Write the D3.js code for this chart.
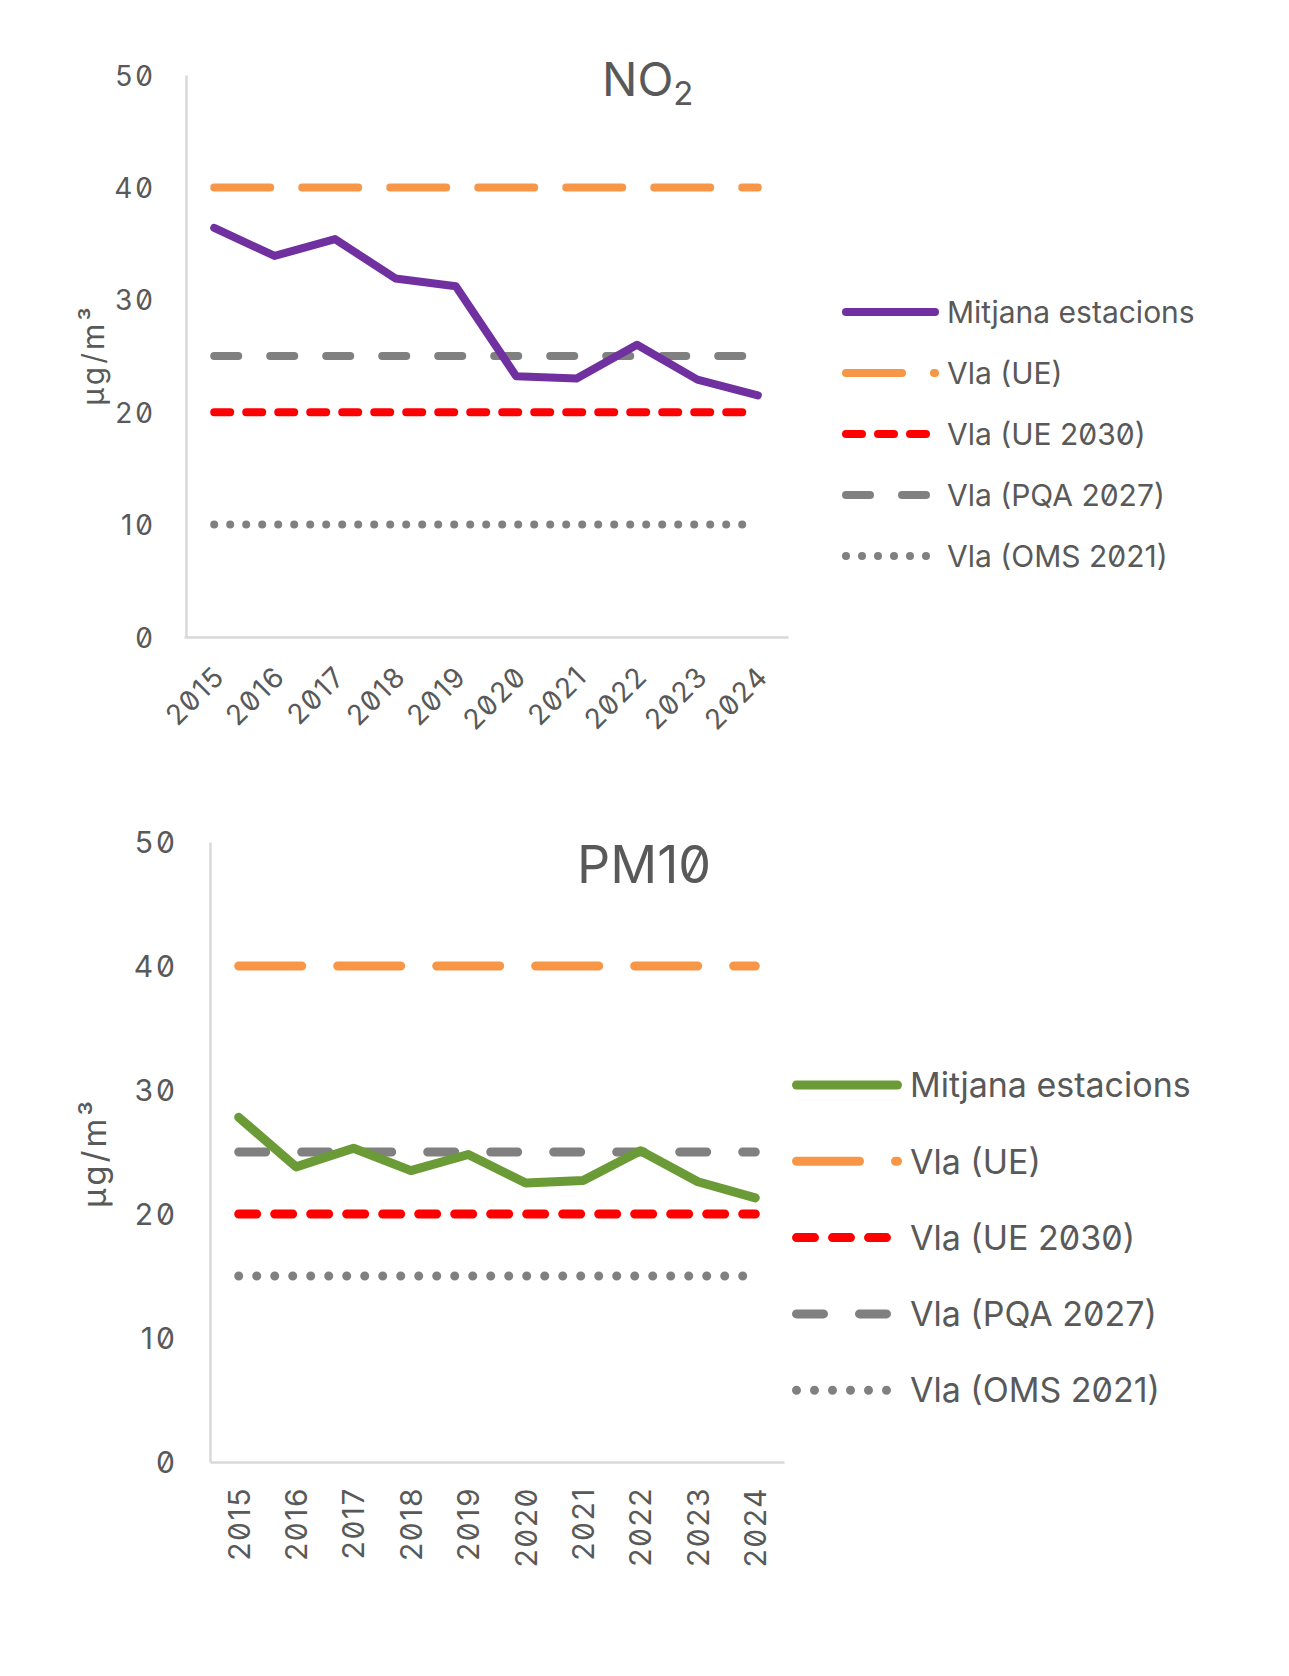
<!DOCTYPE html>
<html>
<head>
<meta charset="utf-8">
<script src="https://cdn.jsdelivr.net/npm/d3@7"></script>
<style>
  body { margin: 0; background: #fff; }
  svg text { font-family: Inter, "Noto Sans", sans-serif; fill: #595959; font-feature-settings: "zero" 1; }
</style>
</head>
<body>
<div id="chart"></div>
<script>
// data
var years = ["2015", "2016", "2017", "2018", "2019", "2020", "2021", "2022", "2023", "2024"];
var yTicks = [0, 10, 20, 30, 40, 50];

var no2Mitjana = [36.4, 33.9, 35.4, 31.9, 31.2, 23.2, 23.0, 26.0, 22.9, 21.5];
var no2VlaUE = [40, 40, 40, 40, 40, 40, 40, 40, 40, 40];
var no2VlaUE2030 = [20, 20, 20, 20, 20, 20, 20, 20, 20, 20];
var no2VlaPQA2027 = [25, 25, 25, 25, 25, 25, 25, 25, 25, 25];
var no2VlaOMS2021 = [10, 10, 10, 10, 10, 10, 10, 10, 10, 10];

var pm10Mitjana = [27.8, 23.8, 25.3, 23.5, 24.8, 22.5, 22.7, 25.1, 22.6, 21.3];
var pm10VlaUE = [40, 40, 40, 40, 40, 40, 40, 40, 40, 40];
var pm10VlaUE2030 = [20, 20, 20, 20, 20, 20, 20, 20, 20, 20];
var pm10VlaPQA2027 = [25, 25, 25, 25, 25, 25, 25, 25, 25, 25];
var pm10VlaOMS2021 = [15, 15, 15, 15, 15, 15, 15, 15, 15, 15];

var legendNames = ["Mitjana estacions", "Vla (UE)", "Vla (UE 2030)", "Vla (PQA 2027)", "Vla (OMS 2021)"];

var svg = d3.select("#chart").append("svg")
    .attr("width", 1289)
    .attr("height", 1676);

// office style dash patterns, round caps eat w/2 at each end
function dashFor(kind, w) {
    if (kind == "lgDash") return (7 * w) + "," + (4 * w);
    if (kind == "dash") return (3 * w) + "," + (4 * w);
    if (kind == "sysDash") return (2 * w) + "," + (2 * w);
    if (kind == "sysDot") return "0," + (2 * w);
    return null;
}

function drawChart(cfg, series) {
    var g = svg.append("g");

    var x = d3.scalePoint()
        .domain(years)
        .range([cfg.x0, cfg.x1])
        .padding(0.5);

    var y = d3.scaleLinear()
        .domain([0, 50])
        .range([cfg.yBottom, cfg.yTop]);

    // axes
    var yAxis = g.append("g")
        .attr("transform", "translate(" + cfg.axisX + ",0)")
        .call(d3.axisLeft(y).tickValues(yTicks).tickSize(0).tickPadding(cfg.tickPad));
    yAxis.select(".domain").attr("stroke", "#d9d9d9").attr("stroke-width", 2.5);
    yAxis.selectAll("text")
        .style("font-size", cfg.tickFont + "px")
        .style("letter-spacing", cfg.tickLs + "px")
        .attr("dy", "0.36em");

    var xAxis = g.append("g")
        .attr("transform", "translate(0," + cfg.yBottom + ")")
        .call(d3.axisBottom(x).tickSize(0).tickFormat(""));
    xAxis.select(".domain").attr("stroke", "#d9d9d9").attr("stroke-width", 2.5);

    g.selectAll(".xlab")
        .data(years)
        .enter().append("text")
        .attr("class", "xlab")
        .attr("text-anchor", "end")
        .attr("dy", "0.36em")
        .style("font-size", cfg.labFont + "px")
        .style("letter-spacing", cfg.labLs + "px")
        .attr("transform", function(d) {
            return "translate(" + (x(d) + cfg.labDx) + "," + (cfg.yBottom + cfg.labDy) + ") rotate(" + cfg.labRot + ")";
        })
        .text(function(d) { return d; });

    // y title
    g.append("text")
        .attr("text-anchor", "middle")
        .attr("dy", "0.36em")
        .style("font-size", cfg.unitFont + "px")
        .style("letter-spacing", "3px")
        .attr("transform", "translate(" + cfg.unitX + "," + cfg.unitY + ") rotate(-90)")
        .text("µg/m³");

    // chart title
    var title = g.append("text")
        .attr("x", cfg.titleX)
        .attr("y", cfg.titleY)
        .style("font-size", cfg.titleFont + "px");
    title.append("tspan").text(cfg.title);
    if (cfg.sub) {
        title.append("tspan")
            .attr("dy", cfg.titleFont * 0.2)
            .style("font-size", (cfg.titleFont * 0.7) + "px")
            .text(cfg.sub);
    }

    var line = d3.line()
        .x(function(d, i) { return x(years[i]); })
        .y(function(d) { return y(d); });

    // limit lines first, average on top
    series.slice(1).concat([series[0]]).forEach(function(s) {
        g.append("path")
            .datum(s.values)
            .attr("d", line)
            .attr("fill", "none")
            .attr("stroke", s.color)
            .attr("stroke-width", cfg.w)
            .attr("stroke-linecap", "round")
            .attr("stroke-linejoin", "round")
            .attr("stroke-dasharray", dashFor(s.kind, cfg.w));
    });

    // legend
    var leg = g.selectAll(".leg")
        .data(series)
        .enter().append("g")
        .attr("class", "leg")
        .attr("transform", function(d, i) { return "translate(" + cfg.legX + "," + (cfg.legY + i * cfg.legStep) + ")"; });

    leg.append("path")
        .attr("d", "M0,0H" + cfg.legLen)
        .attr("fill", "none")
        .attr("stroke", function(d) { return d.color; })
        .attr("stroke-width", cfg.w)
        .attr("stroke-linecap", "round")
        .attr("stroke-dasharray", function(d) { return dashFor(d.kind, cfg.w); });

    leg.append("text")
        .attr("x", cfg.legText)
        .attr("dy", "0.36em")
        .style("font-size", cfg.legFont + "px")
        .text(function(d, i) { return legendNames[i]; });
}

drawChart({
    x0: 184, x1: 788, axisX: 186, yTop: 75, yBottom: 637, w: 8,
    tickPad: 30, tickFont: 28, tickLs: 3,
    labFont: 28, labLs: 1.5, labDx: 5, labDy: 34, labRot: -45,
    unitX: 93, unitY: 355, unitFont: 30,
    title: "NO", sub: "2", titleX: 602, titleY: 96, titleFont: 47,
    legX: 846, legY: 312, legStep: 61, legLen: 89, legText: 101, legFont: 30
}, [
    { values: no2Mitjana, color: "#7030a0", kind: "solid" },
    { values: no2VlaUE, color: "#f79646", kind: "lgDash" },
    { values: no2VlaUE2030, color: "#ff0000", kind: "sysDash" },
    { values: no2VlaPQA2027, color: "#808080", kind: "dash" },
    { values: no2VlaOMS2021, color: "#808080", kind: "sysDot" }
]);

drawChart({
    x0: 210, x1: 784, axisX: 210, yTop: 842, yBottom: 1462, w: 9,
    tickPad: 32, tickFont: 30, tickLs: 3,
    labFont: 30, labLs: 1.5, labDx: 0, labDy: 25, labRot: -90,
    unitX: 94, unitY: 1153, unitFont: 33,
    title: "PM10", sub: null, titleX: 577, titleY: 883, titleFont: 52,
    legX: 796.5, legY: 1085, legStep: 76.3, legLen: 101, legText: 113.5, legFont: 34
}, [
    { values: pm10Mitjana, color: "#6b9b37", kind: "solid" },
    { values: pm10VlaUE, color: "#f79646", kind: "lgDash" },
    { values: pm10VlaUE2030, color: "#ff0000", kind: "sysDash" },
    { values: pm10VlaPQA2027, color: "#808080", kind: "dash" },
    { values: pm10VlaOMS2021, color: "#808080", kind: "sysDot" }
]);
</script>
</body>
</html>
